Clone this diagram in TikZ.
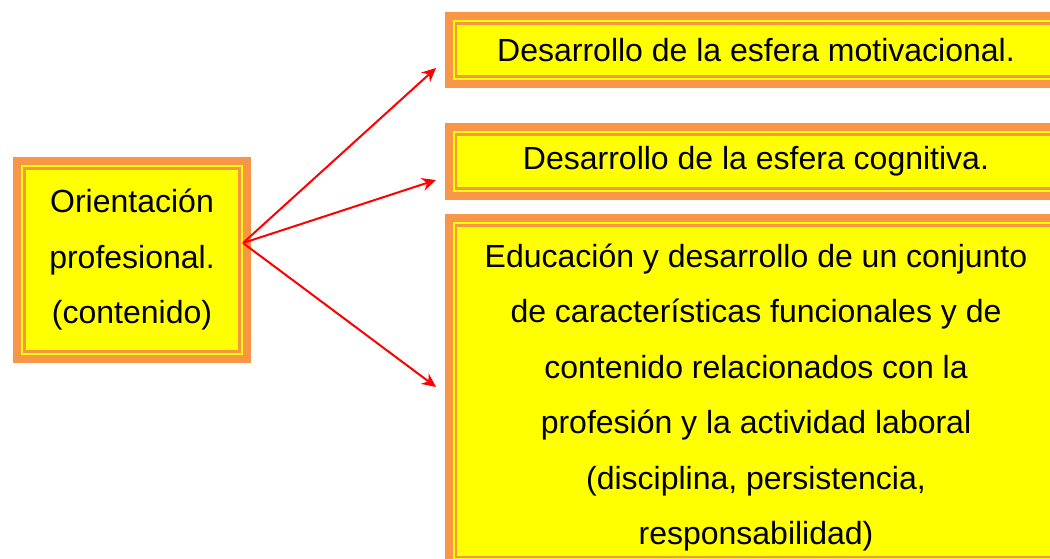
\documentclass[tikz,border=0pt]{standalone}
\usepackage{fontspec}
\setmainfont{Liberation Sans}
\usetikzlibrary{arrows.meta}
\definecolor{boxorange}{HTML}{F79646}
\definecolor{boxyellow}{HTML}{FFFF00}
\tikzstyle{obox}=[draw=boxorange, line width=2.4pt, fill=boxyellow, inner sep=0pt, align=center,
  preaction={draw=boxorange, line width=23pt}, preaction={draw=boxyellow, line width=7pt},
  font=\fontsize{32}{55.5}\selectfont]
\tikzstyle{arr}=[draw=red, line width=2pt, -{Stealth[length=14pt,width=13pt]}]

\begin{document}
\begin{tikzpicture}[x=1pt, y=-1pt]
\useasboundingbox (0,0) rectangle (1050,559);
\clip (0,0) rectangle (1050,559);

\node[obox, minimum width=215pt, minimum height=183pt] (orient) at (132,260)
  {Orientación\\profesional.\\(contenido)};

\node[obox, minimum width=600pt, minimum height=53pt] (motiv) at (756,50)
  {Desarrollo de la esfera motivacional.};
\node[obox, minimum width=600pt, minimum height=54pt] (cogn) at (756,161.5)
  {Desarrollo de la esfera cognitiva.};
\node[obox, minimum width=600pt, minimum height=331.5pt] (educ) at (756,391.25)
  {\rule{0pt}{36pt}Educación y desarrollo de un conjunto\\de características funcionales y de\\contenido relacionados con la\\profesión y la actividad laboral\\(disciplina, persistencia,\\responsabilidad)};

\coordinate (org) at (243,243);
\coordinate (t1) at (436,68);
\coordinate (t2) at (436,180);
\coordinate (t3) at (436,387);

\draw[arr] (org) -- (t1);
\draw[arr] (org) -- (t2);
\draw[arr] (org) -- (t3);

\end{tikzpicture}
\end{document}
